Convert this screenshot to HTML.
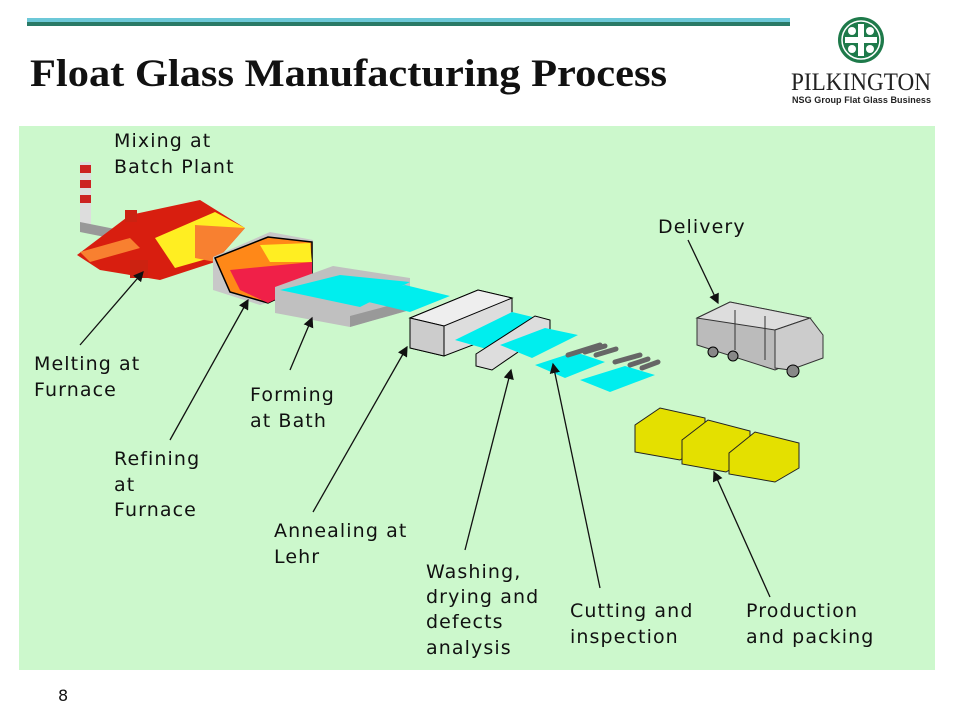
<!DOCTYPE html>
<html><head><meta charset="utf-8"><style>
body{margin:0;width:960px;height:720px;background:#fff;overflow:hidden;font-family:"DejaVu Sans","Liberation Sans",sans-serif}
</style></head><body>
<svg width="960" height="720" viewBox="0 0 960 720" xmlns="http://www.w3.org/2000/svg" style="position:absolute;left:0;top:0">
<rect x="27" y="18" width="763" height="4" fill="#6cc8d8"/>
<rect x="27" y="22" width="763" height="4" fill="#2a7a66"/>
<text x="30" y="86" font-family="Liberation Serif,serif" font-weight="bold" font-size="39" fill="#111" textLength="637" lengthAdjust="spacingAndGlyphs">Float Glass Manufacturing Process</text>
<!-- logo -->
<circle cx="861" cy="40" r="23" fill="#1e7a4a"/>
<circle cx="861" cy="40" r="19" fill="none" stroke="#fff" stroke-width="1.5"/>
<g fill="#fff"><rect x="858" y="24" width="6" height="32"/><rect x="845" y="37" width="32" height="6"/>
<circle cx="852" cy="31" r="4"/><circle cx="870" cy="31" r="4"/><circle cx="852" cy="49" r="4"/><circle cx="870" cy="49" r="4"/></g>
<text x="791" y="90" font-family="Liberation Serif,serif" font-size="25" fill="#222" textLength="140" lengthAdjust="spacingAndGlyphs">PILKINGTON</text>
<text x="792" y="103" font-family="Liberation Sans,sans-serif" font-weight="bold" font-size="9" fill="#222" textLength="139">NSG Group Flat Glass Business</text>
<!-- panel -->
<rect x="19" y="126" width="916" height="544" fill="#ccf8cc"/>
<!-- chimney -->
<rect x="80" y="162" width="11" height="65" fill="#ddd"/>
<rect x="80" y="165" width="11" height="8" fill="#c22"/><rect x="80" y="180" width="11" height="8" fill="#c22"/><rect x="80" y="195" width="11" height="8" fill="#c22"/>
<polygon points="80,222 120,230 120,240 80,232" fill="#999"/>
<!-- furnace -->
<polygon points="77,255 130,215 200,200 245,228 215,262 160,280 100,270" fill="#d81e0f"/>
<polygon points="80,252 130,238 140,248 90,262" fill="#f88030"/>
<polygon points="155,238 215,212 245,228 210,258 175,268" fill="#ffee22"/>
<polygon points="195,225 245,228 215,262 195,258" fill="#f88030"/>
<rect x="125" y="210" width="12" height="12" fill="#c21"/>
<rect x="130" y="260" width="18" height="18" fill="#c21"/>
<!-- refiner -->
<polygon points="213,257 270,232 313,240 313,290 260,305 213,290" fill="#c8c8c8"/>
<polygon points="215,258 268,237 312,242 312,282 268,303 230,292" fill="#ff8818" stroke="#000" stroke-width="1.5"/>
<polygon points="230,270 312,262 312,282 268,303 240,290" fill="#f02048"/>
<polygon points="260,245 310,243 312,262 270,262" fill="#ffee22"/>
<!-- bath -->
<polygon points="275,287 333,266 410,278 410,310 350,327 275,313" fill="#c0c0c0"/>
<polygon points="280,290 340,275 410,282 360,307" fill="#00eeee"/>
<polygon points="350,327 410,310 410,300 350,316" fill="#999"/>
<!-- ribbon -->
<polygon points="360,300 405,285 450,296 410,312" fill="#00eeee"/>
<!-- lehr -->
<polygon points="410,318 478,290 512,298 512,330 444,356 410,348" fill="#ddd" stroke="#000"/>
<polygon points="410,318 478,290 512,298 444,326" fill="#eee" stroke="#000"/>
<polygon points="444,326 444,356 410,348 410,318" fill="#ccc" stroke="#000"/>
<polygon points="455,340 512,312 545,320 490,350" fill="#00eeee"/>
<!-- washer -->
<polygon points="476,354 535,316 550,320 550,330 492,370 476,366" fill="#ddd" stroke="#000"/>
<polygon points="500,345 545,328 578,335 532,358" fill="#00eeee"/>
<polygon points="535,365 575,352 605,362 565,378" fill="#00eeee"/>
<polygon points="580,380 625,366 655,375 610,392" fill="#00eeee"/>
<g stroke="#666" stroke-width="5" stroke-linecap="round">
<line x1="568" y1="355" x2="600" y2="345"/><line x1="585" y1="352" x2="605" y2="346"/><line x1="596" y1="355" x2="616" y2="349"/>
<line x1="615" y1="362" x2="640" y2="355"/><line x1="630" y1="365" x2="648" y2="359"/><line x1="642" y1="368" x2="658" y2="362"/></g>
<!-- truck -->
<polygon points="697,318 730,302 810,318 810,355 775,370 697,345" fill="#bbb" stroke="#333"/>
<polygon points="697,318 730,302 810,318 775,330" fill="#ddd" stroke="#333"/>
<line x1="735" y1="310" x2="735" y2="350" stroke="#333"/><line x1="765" y1="316" x2="765" y2="360" stroke="#333"/>
<polygon points="775,330 810,318 823,335 823,358 790,370 775,368" fill="#ccc" stroke="#333"/>
<circle cx="713" cy="352" r="5" fill="#888" stroke="#000"/><circle cx="733" cy="356" r="5" fill="#888" stroke="#000"/><circle cx="793" cy="371" r="6" fill="#888" stroke="#000"/>
<!-- boxes -->
<g stroke="#222" fill="#e4e000">
<polygon points="635,425 660,408 705,418 705,445 680,460 635,452"/>
<polygon points="682,440 708,420 750,431 750,458 726,472 682,464"/>
<polygon points="729,453 755,432 799,443 799,468 775,482 729,474"/></g>
<!-- arrows -->
<defs><marker id="a" markerWidth="8" markerHeight="8" refX="7" refY="4" orient="auto"><path d="M0,0 L8,4 L0,8z" fill="#111"/></marker></defs>
<g stroke="#111" stroke-width="1.3" marker-end="url(#a)">
<line x1="80" y1="345" x2="143" y2="272"/>
<line x1="170" y1="440" x2="248" y2="300"/>
<line x1="290" y1="370" x2="312" y2="318"/>
<line x1="313" y1="512" x2="407" y2="347"/>
<line x1="465" y1="550" x2="511" y2="370"/>
<line x1="600" y1="588" x2="553" y2="364"/>
<line x1="770" y1="597" x2="714" y2="472"/>
<line x1="688" y1="240" x2="718" y2="303"/></g>
<g font-size="19" fill="#111" letter-spacing="1.1">
<text x="114" y="147">Mixing at</text><text x="114" y="173">Batch Plant</text>
<text x="34" y="370">Melting at</text><text x="34" y="396">Furnace</text>
<text x="114" y="465">Refining</text><text x="114" y="491">at</text><text x="114" y="516">Furnace</text>
<text x="250" y="401">Forming</text><text x="250" y="427">at Bath</text>
<text x="274" y="537">Annealing at</text><text x="274" y="563">Lehr</text>
<text x="426" y="578">Washing,</text><text x="426" y="603">drying and</text><text x="426" y="628">defects</text><text x="426" y="654">analysis</text>
<text x="570" y="617">Cutting and</text><text x="570" y="643">inspection</text>
<text x="746" y="617">Production</text><text x="746" y="643">and packing</text>
<text x="658" y="233">Delivery</text></g>
<text x="58" y="701" font-size="16" fill="#111">8</text>
</svg>
</body></html>
